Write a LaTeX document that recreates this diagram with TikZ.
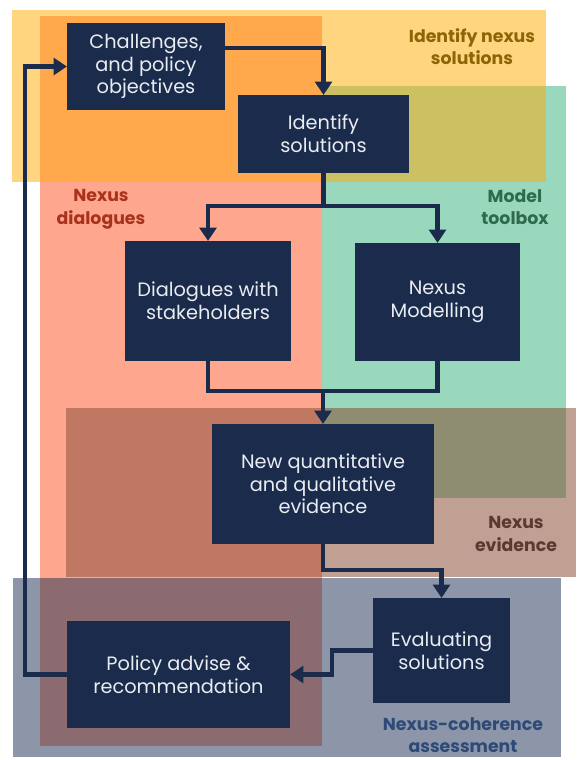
\documentclass[tikz,border=0pt]{standalone}
\usepackage{fontspec}
\setmainfont{Poppins}
\usetikzlibrary{arrows.meta,calc}

\definecolor{navy}{HTML}{1A2B4C}
\definecolor{boxtext}{HTML}{E9ECF0}
% region fills
\definecolor{yellowR}{HTML}{FFD580}
\definecolor{salmonR}{HTML}{FFA68F}
\definecolor{greenR}{HTML}{9AD8BD}
\definecolor{evidR}{HTML}{C0A093}
\definecolor{grayR}{HTML}{8C96A8}
% overlap fills
\definecolor{yelSal}{HTML}{FFA84C}
\definecolor{yelGrn}{HTML}{CDC062}
\definecolor{evSal}{HTML}{C07862}
\definecolor{evGrn}{HTML}{8E8D72}
\definecolor{graySal}{HTML}{8B6B70}
% label colours
\definecolor{lblGold}{HTML}{8C6606}
\definecolor{lblRed}{HTML}{A8321C}
\definecolor{lblGreen}{HTML}{2F6A4C}
\definecolor{lblBrown}{HTML}{5A3A30}
\definecolor{lblBlue}{HTML}{2E4A78}

\tikzset{
  stage/.style={fill=navy, text=boxtext, align=center, inner sep=0pt, outer sep=0pt,
    font=\fontsize{14.5}{17}\selectfont},
  zonelabel/.style={align=center, inner sep=0pt, font=\bfseries\fontsize{13}{17}\selectfont},
  flow/.style={draw=navy, line width=3.3pt, -{Triangle[width=12.5pt,length=10pt]}},
  link/.style={draw=navy, line width=3.3pt}
}

\begin{document}
\begin{tikzpicture}[x=0.75pt,y=-0.75pt]
\useasboundingbox (0,0) rectangle (576,760);
\fill[white] (0,0) rectangle (576,760);

% coloured zones
\fill[yellowR] (12,10) rectangle (546,182);
\fill[salmonR] (40,16) rectangle (322,746);
\fill[greenR]  (322,86) rectangle (566,498);
\fill[evidR]   (66,408) rectangle (576,577);
\fill[grayR]   (13,578) rectangle (561,757);
% where zones overlap
\fill[yelSal]  (40,16) rectangle (322,182);
\fill[yelGrn]  (322,86) rectangle (546,182);
\fill[evSal]   (66,408) rectangle (322,577);
\fill[evGrn]   (322,408) rectangle (566,498);
\fill[graySal] (40,578) rectangle (322,746);

% zone labels
\node[zonelabel, text=lblGold]  (zsol)   at (472,46.5) {Identify nexus\\solutions};
\node[zonelabel, text=lblRed]   (zdia)   at (101,209.5) {Nexus\\dialogues};
\node[zonelabel, text=lblGreen] (ztool)  at (515,207) {Model\\toolbox};
\node[zonelabel, text=lblBrown] (zevid)  at (516,534) {Nexus\\evidence};
\node[zonelabel, text=lblBlue]  (zcoh)   at (463,735) {Nexus-coherence\\assessment};

% process stages
\node[stage, minimum width=118.5pt, minimum height=65.25pt] (chal)   at (146,66.5)  {Challenges,\\and policy\\objectives};
\node[stage, minimum width=128.25pt, minimum height=58.5pt] (ident)  at (323.5,134) {Identify\\solutions};
\node[stage, minimum width=124.5pt, minimum height=90pt]    (dial)   at (208,301)   {Dialogues with\\stakeholders};
\node[stage, minimum width=123.75pt, minimum height=88.5pt] (model)  at (437.5,302) {Nexus\\Modelling};
\node[stage, minimum width=166.1pt, minimum height=90pt]    (new)    at (323,484)   {New quantitative\\and qualitative\\evidence};
\node[stage, minimum width=102.75pt, minimum height=78.75pt](eval)   at (441.5,650.5) {Evaluating\\solutions};
\node[stage, minimum width=167.25pt, minimum height=80.25pt](policy) at (178.5,674.5) {Policy advise \&\\recommendation};

% connectors
\coordinate (chalout) at ($(chal.north east)!0.29!(chal.south east)$);
\draw[flow] (chalout) -| (ident.north);
\coordinate (split) at ($(ident.south)+(0,33)$);
\draw[link] (ident.south) -- (split);
\draw[flow] (split) -| (dial.north);
\draw[flow] (split) -| (model.north);
\coordinate (merge) at (new.north |- 0,391);
\draw[link] (dial.south) |- (merge);
\draw[link] (model.south) |- (merge);
\draw[flow] (merge) -- (new.north);
\coordinate (evbend) at ($(new.south)+(0,26)$);
\draw[flow] (new.south) -- (evbend) -| (eval.north);
\coordinate (evleft) at ($(eval.west)+(-41,0)$);
\draw[flow] (eval.west) -- (evleft) |- (policy.east);
\coordinate (loop) at ($(policy.west)+(-42,0)$);
\draw[flow] (policy.west) -- (loop) |- (chal.west);
\end{tikzpicture}
\end{document}
